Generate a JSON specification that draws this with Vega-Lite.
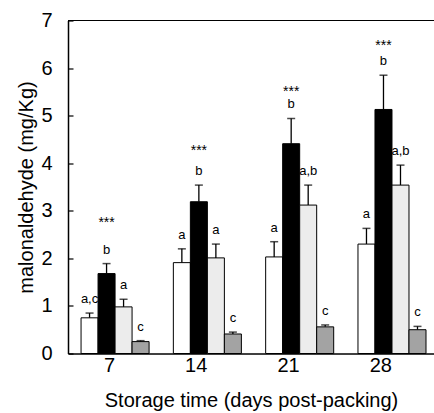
{
  "$schema": "https://vega.github.io/schema/vega-lite/v6.json",
  "autosize": "none",
  "width": 366,
  "height": 333,
  "padding": {"left": 68, "top": 20.5, "right": 0, "bottom": 59.5},
  "background": "white",
  "config": {
    "view": {"stroke": null},
    "font": "Liberation Sans",
    "axis": {"grid": false, "domainColor": "black", "tickColor": "black", "labelColor": "black", "titleColor": "black", "labelFont": "Liberation Sans", "titleFont": "Liberation Sans", "titleFontWeight": "normal"}
  },
  "data": {
    "values": [
      {"day": "7", "grp": "A", "v": 0.75, "e": 0.85, "lab": "a,c"},
      {"day": "7", "grp": "B", "v": 1.68, "e": 1.89, "lab": "b", "stars": 2.65},
      {"day": "7", "grp": "C", "v": 0.98, "e": 1.14, "lab": "a"},
      {"day": "7", "grp": "D", "v": 0.25, "e": 0.27, "lab": "c"},
      {"day": "14", "grp": "A", "v": 1.91, "e": 2.2, "lab": "a"},
      {"day": "14", "grp": "B", "v": 3.19, "e": 3.54, "lab": "b", "stars": 4.18},
      {"day": "14", "grp": "C", "v": 2.01, "e": 2.3, "lab": "a"},
      {"day": "14", "grp": "D", "v": 0.41, "e": 0.45, "lab": "c"},
      {"day": "21", "grp": "A", "v": 2.03, "e": 2.35, "lab": "a"},
      {"day": "21", "grp": "B", "v": 4.41, "e": 4.94, "lab": "b", "stars": 5.42},
      {"day": "21", "grp": "C", "v": 3.12, "e": 3.54, "lab": "a,b"},
      {"day": "21", "grp": "D", "v": 0.56, "e": 0.6, "lab": "c"},
      {"day": "28", "grp": "A", "v": 2.3, "e": 2.63, "lab": "a"},
      {"day": "28", "grp": "B", "v": 5.13, "e": 5.85, "lab": "b", "stars": 6.39},
      {"day": "28", "grp": "C", "v": 3.54, "e": 3.96, "lab": "a,b"},
      {"day": "28", "grp": "D", "v": 0.5, "e": 0.57, "lab": "c"}
    ]
  },
  "layer": [
    {
      "data": {"values": [{"top": 7}]},
      "mark": {"type": "rule", "color": "black", "strokeWidth": 1.2},
      "encoding": {"y": {"field": "top", "type": "quantitative", "scale": {"domain": [0, 7]}}}
    },
    {
      "mark": {"type": "rule", "color": "black", "strokeWidth": 1.3},
      "encoding": {
        "x": {"field": "day", "type": "ordinal", "sort": null},
        "xOffset": {"field": "grp", "type": "nominal"},
        "y": {"field": "v", "type": "quantitative"},
        "y2": {"field": "e"}
      }
    },
    {
      "mark": {"type": "tick", "color": "black", "size": 8, "thickness": 1.5, "orient": "horizontal"},
      "encoding": {
        "x": {"field": "day", "type": "ordinal", "sort": null},
        "xOffset": {"field": "grp", "type": "nominal"},
        "y": {"field": "e", "type": "quantitative"}
      }
    },
    {
      "mark": {"type": "bar", "stroke": "black", "strokeWidth": 1},
      "encoding": {
        "x": {"field": "day", "type": "ordinal", "sort": null,
              "scale": {"paddingInner": 0.263, "paddingOuter": 0.114, "align": 0.62},
              "axis": {"title": "Storage time (days post-packing)", "labelAngle": 0, "ticks": false, "labelFontSize": 20, "titleFontSize": 20, "labelPadding": 12, "titlePadding": 15, "domainWidth": 1.5}},
        "xOffset": {"field": "grp", "type": "nominal", "scale": {"paddingInner": 0, "paddingOuter": 0}},
        "y": {"field": "v", "type": "quantitative",
              "scale": {"domain": [0, 7], "nice": false},
              "axis": {"title": "malonaldehyde (mg/Kg)", "values": [0, 1, 2, 3, 4, 5, 6, 7], "tickSize": -5, "labelPadding": 21, "labelFontSize": 20, "titleFontSize": 20, "titlePadding": 4, "domainWidth": 1.5, "tickWidth": 1.2}},
        "fill": {"field": "grp", "type": "nominal", "scale": {"domain": ["A", "B", "C", "D"], "range": ["#ffffff", "#000000", "#ececec", "#a3a3a3"]}, "legend": null}
      }
    },
    {
      "mark": {"type": "text", "baseline": "alphabetic", "dy": -10, "fontSize": 13, "color": "black"},
      "encoding": {
        "x": {"field": "day", "type": "ordinal", "sort": null},
        "xOffset": {"field": "grp", "type": "nominal"},
        "y": {"field": "e", "type": "quantitative"},
        "text": {"field": "lab"}
      }
    },
    {
      "transform": [{"filter": "datum.grp === 'B'"}],
      "mark": {"type": "text", "baseline": "alphabetic", "fontSize": 14, "color": "black"},
      "encoding": {
        "x": {"field": "day", "type": "ordinal", "sort": null},
        "xOffset": {"field": "grp", "type": "nominal"},
        "y": {"field": "stars", "type": "quantitative"},
        "text": {"value": "***"}
      }
    }
  ]
}
